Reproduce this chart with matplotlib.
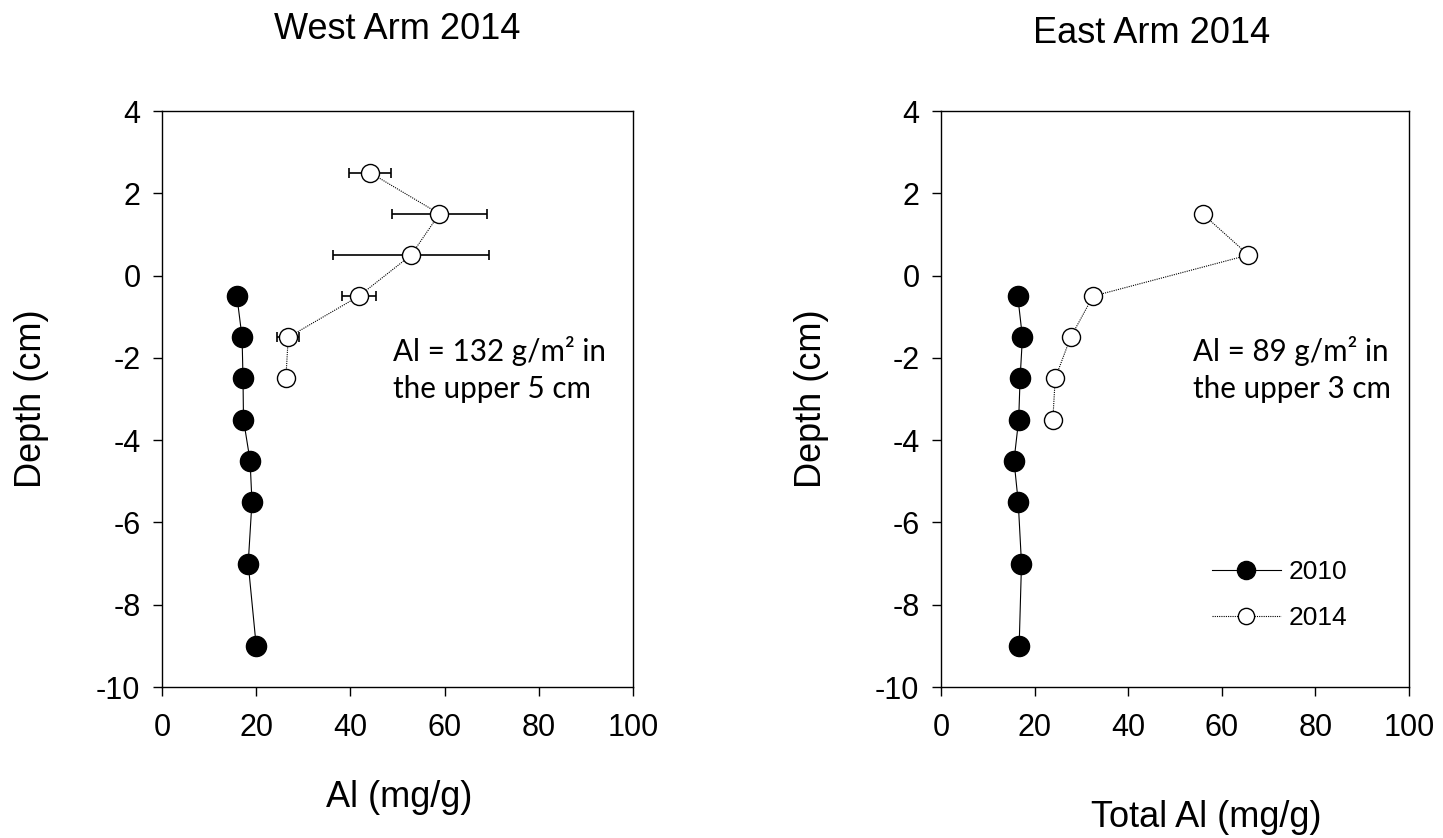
import numpy as np
import matplotlib.pyplot as plt

# West arm
west_depth_2010 = [-0.5, -1.5, -2.5, -3.5, -4.5, -5.5, -7, -9]
west_al_2010 = [15.9, 17.0, 17.2, 17.3, 18.7, 19.1, 18.3, 20.0]
west_depth_2014 = [2.5, 1.5, 0.5, -0.5, -1.5, -2.5]
west_al_2014 = [44.2, 58.9, 52.9, 41.8, 26.8, 26.3]
west_err_2014 = [4.4, 10.0, 16.5, 3.6, 2.3, 0.0]

# East arm
east_depth_2010 = [-0.5, -1.5, -2.5, -3.5, -4.5, -5.5, -7, -9]
east_al_2010 = [16.4, 17.4, 16.9, 16.6, 15.6, 16.5, 17.2, 16.7]
east_depth_2014 = [1.5, 0.5, -0.5, -1.5, -2.5, -3.5]
east_al_2014 = [55.9, 65.7, 32.5, 27.7, 24.4, 23.9]

titles = ['West Arm 2014', 'East Arm 2014']
xlabels = ['Al (mg/g)', 'Total Al (mg/g)']
notes = ['Al = 132 g/m\u00b2 in\nthe upper 5 cm', 'Al = 89 g/m\u00b2 in\nthe upper 3 cm']

plt.rcParams['font.family'] = ['Liberation Sans', 'DejaVu Sans']
plt.rcParams['axes.unicode_minus'] = False

W, H = 1443, 838
fig = plt.figure(figsize=(W / 100, H / 100), dpi=100)


def px_axes(x0, y0, x1, y1):
    # pixel box (top-left origin) -> figure axes
    return fig.add_axes([x0 / W, 1 - y1 / H, (x1 - x0) / W, (y1 - y0) / H])


ax1 = px_axes(162, 111, 633, 687)
ax2 = px_axes(941, 111, 1409, 687)

# 2010 (filled)
for ax, x, y in [(ax1, west_al_2010, west_depth_2010), (ax2, east_al_2010, east_depth_2010)]:
    ax.plot(x, y, '-', color='black', lw=0.8, marker='o', ms=14.5,
            mfc='black', mec='black', label='2010', zorder=3)

# 2014 (open)
ax1.errorbar(west_al_2014, west_depth_2014, xerr=west_err_2014, fmt='none',
             ecolor='black', elinewidth=1.2, capsize=3.8, capthick=1.2, zorder=2)
for ax, x, y in [(ax1, west_al_2014, west_depth_2014), (ax2, east_al_2014, east_depth_2014)]:
    ax.plot(x, y, linestyle=(0, (1, 1)), color='black', lw=0.8, marker='o', ms=13,
            mfc='white', mec='black', mew=1.0, label='2014', zorder=3)

for ax, note, nx in zip([ax1, ax2], notes, [393, 1193]):
    ax.set_xlim(0, 100)
    ax.set_ylim(-10, 4)
    ax.set_xticks(range(0, 101, 20))
    ax.set_yticks(range(-10, 5, 2))
    ax.tick_params(direction='out', length=6.5, width=1, labelsize=22)
    ax.tick_params(axis='x', pad=12)
    ax.tick_params(axis='y', pad=9)
    for s in ax.spines.values():
        s.set_linewidth(1)
    # baseline of the last line
    fig.text(nx / W, 1 - 398 / H, note, fontsize=21.3,
             family=['Lato', 'DejaVu Sans'], va='baseline', ha='left',
             linespacing=1.38)

# titles and axis labels placed by pixel position
fig.text(397 / W, 1 - 39 / H, titles[0], fontsize=26, ha='center', va='baseline')
fig.text(1152 / W, 1 - 43 / H, titles[1], fontsize=26, ha='center', va='baseline')
fig.text(399 / W, 1 - 807 / H, xlabels[0], fontsize=26, ha='center', va='baseline')
fig.text(1206 / W, 1 - 827 / H, xlabels[1], fontsize=26, ha='center', va='baseline')
fig.text(32 / W, 1 - 399 / H, 'Depth (cm)', fontsize=26, rotation=90,
         ha='center', va='center')
fig.text(811 / W, 1 - 399 / H, 'Depth (cm)', fontsize=26, rotation=90,
         ha='center', va='center')

ax2.legend(loc='upper left', bbox_to_anchor=(1212 / W, 1 - 560 / H),
           bbox_transform=fig.transFigure, frameon=False, fontsize=19,
           handlelength=2.6, handletextpad=0.3, markerscale=0.9,
           labelspacing=0.85, borderpad=0, borderaxespad=0)

fig.savefig('out.png', dpi=100)
